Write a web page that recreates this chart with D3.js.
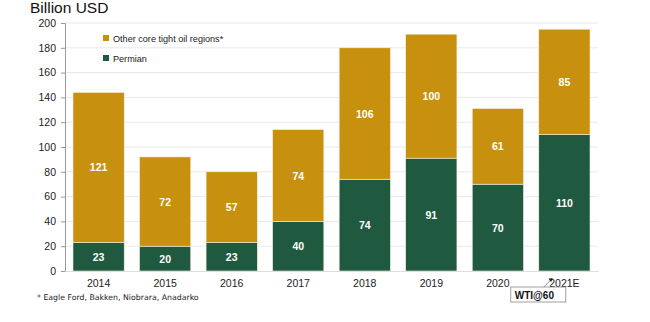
<!DOCTYPE html>
<html>
<head>
<meta charset="utf-8">
<script src="https://cdn.jsdelivr.net/npm/d3@7"></script>
<style>
  body { margin: 0; background: #fff; }
  svg { font-family: "Liberation Sans", Arial, sans-serif; }
</style>
</head>
<body>
<svg width="650" height="322"></svg>
<script>
const years = ["2014", "2015", "2016", "2017", "2018", "2019", "2020", "2021E"];
const permian = [23, 20, 23, 40, 74, 91, 70, 110];
const otherCore = [121, 72, 57, 74, 106, 100, 61, 85];
const yTicks = [0, 20, 40, 60, 80, 100, 120, 140, 160, 180, 200];

const gold = "#c7910f";
const green = "#1f5a40";

const margin = {left: 65, right: 52, top: 23, bottom: 51};
const width = 650, height = 322;

let svg = d3.select("svg");

let x = d3.scaleBand()
    .domain(years)
    .range([margin.left, width - margin.right])
    .paddingInner(0.23)
    .paddingOuter(0.12);
let y = d3.scaleLinear()
    .domain([0, 200])
    .range([height - margin.bottom, margin.top]);

// gridlines
svg.append("g")
    .selectAll("line")
    .data(yTicks.slice(1))
    .join("line")
    .attr("x1", margin.left)
    .attr("x2", width - margin.right)
    .attr("y1", d => y(d))
    .attr("y2", d => y(d))
    .attr("stroke", "#e8e8e8")
    .attr("stroke-width", 1);

let rows = years.map((yr, i) => ({year: yr, permian: permian[i], other: otherCore[i]}));
let stacked = d3.stack().keys(["permian", "other"])(rows);
let colors = {permian: green, other: gold};

let layers = svg.append("g")
    .selectAll("g")
    .data(stacked)
    .join("g")
    .attr("fill", d => colors[d.key]);
layers.selectAll("rect")
    .data(d => d)
    .join("rect")
    .attr("x", d => x(d.data.year))
    .attr("width", x.bandwidth())
    .attr("y", d => y(d[1]))
    .attr("height", d => y(d[0]) - y(d[1]))
    .attr("stroke", "#f4efe0")
    .attr("stroke-width", 0.6);
layers.selectAll("text")
    .data(d => d)
    .join("text")
    .attr("x", d => x(d.data.year) + x.bandwidth() / 2)
    .attr("y", d => (y(d[0]) + y(d[1])) / 2 + 4)
    .attr("text-anchor", "middle")
    .attr("fill", "#fff")
    .attr("font-size", 10.5)
    .attr("font-weight", "bold")
    .text(d => d[1] - d[0]);

// y axis
let yAxis = d3.axisLeft(y).tickValues(yTicks).tickSize(4).tickPadding(5);
let ya = svg.append("g")
    .attr("transform", "translate(" + margin.left + ",0)")
    .call(yAxis);
ya.select(".domain").attr("stroke", "#999");
ya.selectAll(".tick line").attr("stroke", "#999");
ya.selectAll("text").attr("font-size", 10.5).attr("fill", "#222").attr("font-family", "Liberation Sans, Arial, sans-serif");

// x axis
let xAxis = d3.axisBottom(x).tickSize(0).tickPadding(9);
let xa = svg.append("g")
    .attr("transform", "translate(0," + y(0) + ")")
    .call(xAxis);
xa.select(".domain").attr("stroke", "#ddd");
xa.selectAll("text").attr("font-size", 10.5).attr("fill", "#222").attr("font-family", "Liberation Sans, Arial, sans-serif");

// title
svg.append("text")
    .attr("x", 30)
    .attr("y", 13)
    .attr("font-size", 15.5)
    .attr("fill", "#111")
    .text("Billion USD");

// legend
let legend = [{label: "Other core tight oil regions*", color: gold}, {label: "Permian", color: green}];
let lg = svg.append("g")
    .selectAll("g")
    .data(legend)
    .join("g")
    .attr("transform", (d, i) => "translate(103," + (38 + i * 20) + ")");
lg.append("rect")
    .attr("x", 0).attr("y", -3)
    .attr("width", 6).attr("height", 6)
    .attr("fill", d => d.color);
lg.append("text")
    .attr("x", 10).attr("y", 3.5)
    .attr("font-size", 9.1)
    .attr("fill", "#222")
    .text(d => d.label);

// footnote
svg.append("text")
    .attr("x", 37)
    .attr("y", 300)
    .attr("font-size", 7.8)
    .attr("font-family", "DejaVu Sans, Verdana, sans-serif")
    .attr("fill", "#222")
    .text("* Eagle Ford, Bakken, Niobrara, Anadarko");

// WTI callout
let bx = x("2021E");
svg.append("line")
    .attr("x1", bx + 5).attr("y1", 287)
    .attr("x2", bx + 12).attr("y2", 280)
    .attr("stroke", "#777")
    .attr("stroke-width", 0.8);
svg.append("path")
    .attr("d", d3.symbol(d3.symbolTriangle, 8)())
    .attr("transform", "translate(" + (bx + 12) + ",279.5) rotate(50)")
    .attr("fill", "#222");
svg.append("rect")
    .attr("x", bx - 28).attr("y", 287)
    .attr("width", 55).attr("height", 15)
    .attr("fill", "#fff")
    .attr("stroke", "#888")
    .attr("stroke-width", 0.8);
svg.append("text")
    .attr("x", bx - 24).attr("y", 298.5)
    .attr("font-size", 10)
    .attr("font-weight", "bold")
    .attr("fill", "#111")
    .text("WTI@60");
</script>
</body>
</html>
